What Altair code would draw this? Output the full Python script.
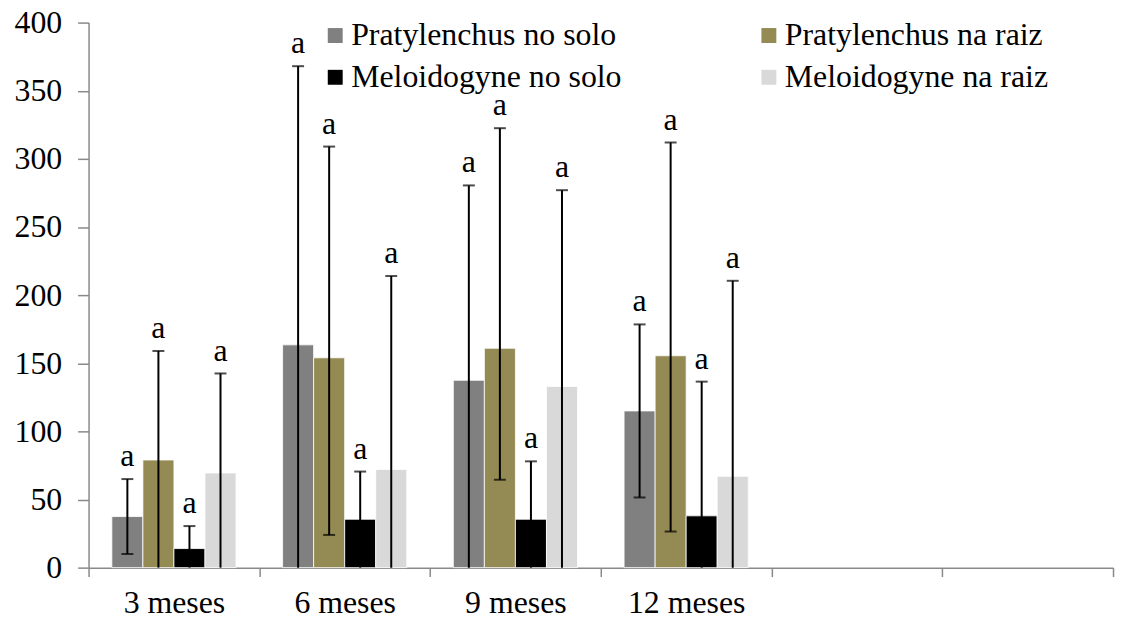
import altair as alt
import pandas as pd

# ---- data ----
categories = ["3 meses", "6 meses", "9 meses", "12 meses"]
empty_slots = ["vazio1", "vazio2"]          # two empty category slots at the right
series = ["Pratylenchus no solo", "Pratylenchus na raiz",
          "Meloidogyne no solo", "Meloidogyne na raiz"]
colors = ["#808080", "#948A54", "#000000", "#D9D9D9"]

mean_prat_solo = [37.5, 163.5, 137.5, 115.0]
mean_prat_raiz = [79.0, 154.0, 161.0, 155.5]
mean_melo_solo = [14.0, 35.5, 35.5, 38.0]
mean_melo_raiz = [69.5, 72.0, 133.0, 67.0]

hi_prat_solo = [65.0, 368.0, 280.5, 178.5]
hi_prat_raiz = [159.0, 309.0, 322.5, 312.0]
hi_melo_solo = [30.5, 70.5, 78.0, 136.5]
hi_melo_raiz = [142.5, 214.0, 277.0, 210.5]

lo_prat_solo = [10.0, 0.0, 0.0, 51.5]
lo_prat_raiz = [0.0, 24.0, 64.5, 26.5]
lo_melo_solo = [0.0, 0.0, 0.0, 0.0]
lo_melo_raiz = [0.0, 0.0, 0.0, 0.0]

letters_prat_solo = ["a", "a", "a", "a"]
letters_prat_raiz = ["a", "a", "a", "a"]
letters_melo_solo = ["a", "a", "a", "a"]
letters_melo_raiz = ["a", "a", "a", "a"]

means = [mean_prat_solo, mean_prat_raiz, mean_melo_solo, mean_melo_raiz]
his = [hi_prat_solo, hi_prat_raiz, hi_melo_solo, hi_melo_raiz]
los = [lo_prat_solo, lo_prat_raiz, lo_melo_solo, lo_melo_raiz]
letters = [letters_prat_solo, letters_prat_raiz, letters_melo_solo, letters_melo_raiz]

rows = []
for si, s in enumerate(series):
    for ci, c in enumerate(categories):
        rows.append(dict(cat=c, serie=s, mean=means[si][ci], hi=his[si][ci],
                         lo=los[si][ci], letter=letters[si][ci]))
df = pd.DataFrame(rows)

FONT = "Liberation Serif"
AXIS_COLOR = "#898989"

x_enc = alt.X(
    "cat:N",
    sort=None,
    scale=alt.Scale(domain=categories + empty_slots, paddingInner=0, paddingOuter=0),
    axis=alt.Axis(
        title=None, labelAngle=0, tickBand="extent", tickSize=9,
        labelPadding=11,
        labelExpr="indexof(['vazio1','vazio2'], datum.value) >= 0 ? '' : datum.value",
    ),
)
xoff_enc = alt.XOffset(
    "serie:N", sort=series,
    scale=alt.Scale(domain=series, paddingInner=0, paddingOuter=0.75),
)
y_scale = alt.Scale(domain=[0, 400], nice=False)
y_axis = alt.Axis(title=None, values=[0, 50, 100, 150, 200, 250, 300, 350, 400],
                  grid=False, tickSize=11, labelPadding=16)

base = alt.Chart(df)

bars = base.mark_bar(stroke="white", strokeWidth=0.8).encode(
    x=x_enc,
    xOffset=xoff_enc,
    y=alt.Y("mean:Q", scale=y_scale, axis=y_axis),
    color=alt.Color(
        "serie:N",
        sort=series,
        scale=alt.Scale(domain=series, range=colors),
        legend=alt.Legend(
            title=None, orient="none", legendX=232, legendY=-3, columns=2,
            direction="horizontal",
            columnPadding=132, rowPadding=10, symbolType="square", symbolSize=225,
            symbolStrokeWidth=0, symbolOpacity=1, labelFont=FONT, labelFontSize=32,
            labelColor="black", labelOffset=0, padding=0, labelLimit=0,
        ),
    ),
)

rules = base.mark_rule(color="black", strokeWidth=2).encode(
    x=x_enc, xOffset=xoff_enc,
    y=alt.Y("lo:Q", scale=y_scale, axis=y_axis),
    y2="hi:Q",
)

caps_hi = base.mark_tick(color="black", thickness=2, size=12).encode(
    x=x_enc, xOffset=xoff_enc,
    y=alt.Y("hi:Q", scale=y_scale, axis=y_axis),
)

caps_lo = base.transform_filter("datum.lo > 0").mark_tick(
    color="black", thickness=2, size=12).encode(
    x=x_enc, xOffset=xoff_enc,
    y=alt.Y("lo:Q", scale=y_scale, axis=y_axis),
)

labels = base.mark_text(font=FONT, fontSize=32, color="black",
                        baseline="alphabetic", dy=-13).encode(
    x=x_enc, xOffset=xoff_enc,
    y=alt.Y("hi:Q", scale=y_scale, axis=y_axis),
    text="letter:N",
)

chart = (
    alt.layer(bars, rules, caps_hi, caps_lo, labels)
    .properties(
        width=1030, height=548,
        autosize=alt.AutoSizeParams(type="none"),
        padding={"left": 81, "top": 13, "right": 2, "bottom": 54},
    )
    .configure_view(stroke=None)
    .configure_axis(
        labelFont=FONT, labelFontSize=32, labelColor="black",
        domainColor=AXIS_COLOR, tickColor=AXIS_COLOR,
        domainWidth=1.5, tickWidth=1.5,
    )
)

chart.save("out.html", embed_options={"renderer": "svg", "actions": False})
